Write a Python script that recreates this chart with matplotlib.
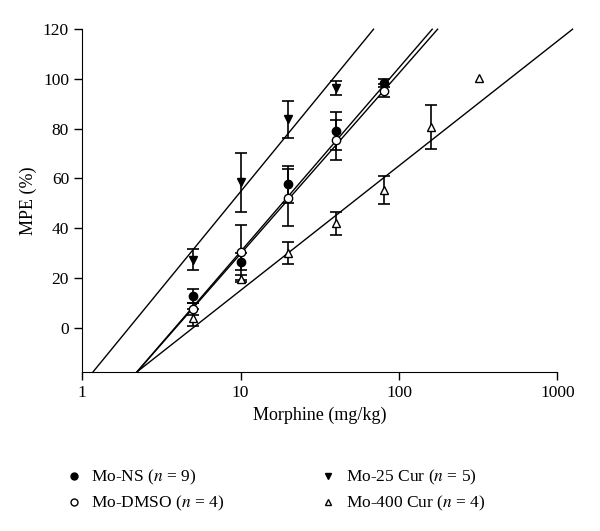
import numpy as np
import matplotlib
matplotlib.use('Agg')
import matplotlib.pyplot as plt

plt.rcParams['font.family'] = ['Liberation Serif', 'DejaVu Serif']
plt.rcParams['mathtext.fontset'] = 'stix'

# 数据
dose = [5, 10, 20, 40, 80]
ns_mean = [12.9, 26.6, 57.6, 79.0, 98.4]
ns_err = [2.8, 3.5, 7.5, 7.6, 1.5]
dmso_mean = [7.6, 30.3, 52.3, 75.3, 95.2]
dmso_err = [2.5, 11.0, 11.3, 8.0, 2.6]
cur25_dose = [5, 10, 20, 40]
cur25_mean = [27.4, 58.4, 83.7, 96.5]
cur25_err = [4.3, 12.0, 7.6, 2.8]
cur400_dose = [5, 10, 20, 40, 80, 160, 320]
cur400_mean = [4.0, 19.7, 30.2, 42.0, 55.3, 80.7, 100.3]
cur400_err = [3.4, 1.5, 4.4, 4.6, 5.7, 8.7]  # 320 mg/kg 无误差棒

# 回归线 MPE = a + b*log10(dose)
fit_ns = (-43.3, 73.9)
fit_dmso = (-42.9, 72.6)
fit_25 = (-23.1, 77.8)
fit_400 = (-35.1, 50.1)

ymin, ymax = -17.7, 120

fig = plt.figure(figsize=(6, 5.31), dpi=100)
ax = fig.add_axes([0.137, 0.30, 0.792, 0.645])

# 回归线画到 y 轴范围两端 (不被 x 轴右端截断)
for a, b in [fit_ns, fit_dmso, fit_25, fit_400]:
    lx = np.logspace((ymin - a) / b, (ymax - a) / b, 100)
    ax.plot(lx, a + b * np.log10(lx), color='black', lw=1.0, zorder=1, clip_on=False)

kw = dict(color='black', ecolor='black', elinewidth=1.2, capsize=4, capthick=1.2,
          linestyle='none', markersize=6, zorder=3)
ax.errorbar(dose, ns_mean, yerr=ns_err, fmt='o', markerfacecolor='black', **kw)
ax.errorbar(dose, dmso_mean, yerr=dmso_err, fmt='o', markerfacecolor='white', **kw)
ax.errorbar(cur25_dose, cur25_mean, yerr=cur25_err, fmt='v', markerfacecolor='black', **kw)
n = len(cur400_err)
ax.errorbar(cur400_dose[:n], cur400_mean[:n], yerr=cur400_err, fmt='^', markerfacecolor='white', **kw)
ax.plot(cur400_dose[n:], cur400_mean[n:], '^', color='black', mfc='white', ms=6, zorder=3)

ax.set_xscale('log')
ax.set_xlim(1, 1000)
ax.set_ylim(ymin, ymax)
ax.set_yticks([0, 20, 40, 60, 80, 100, 120])
ax.set_xticks([1, 10, 100, 1000])
ax.set_xticklabels(['1', '10', '100', '1000'])
ax.minorticks_off()
ax.spines['top'].set_visible(False)
ax.spines['right'].set_visible(False)
ax.tick_params(direction='out', length=6, width=1, labelsize=12.5)
ax.set_xlabel('Morphine (mg/kg)', fontsize=13)
ax.set_ylabel('MPE (%)', fontsize=13)

labels = ['Mo-NS ($n$ = 9)', 'Mo-DMSO ($n$ = 4)', 'Mo-25 Cur ($n$ = 5)', 'Mo-400 Cur ($n$ = 4)']
handles = [plt.Line2D([], [], marker='o', color='black', mfc='black', ls='none', ms=5),
           plt.Line2D([], [], marker='o', color='black', mfc='white', ls='none', ms=5),
           plt.Line2D([], [], marker='v', color='black', mfc='black', ls='none', ms=5),
           plt.Line2D([], [], marker='^', color='black', mfc='white', ls='none', ms=5)]
fig.legend(handles, labels, ncol=2, frameon=False, loc='upper left',
           bbox_to_anchor=(0.082, 0.148), fontsize=12.5, handlelength=1.0,
           handletextpad=0.5, columnspacing=5.5, labelspacing=0.4)

plt.savefig('out.png', dpi=100)
